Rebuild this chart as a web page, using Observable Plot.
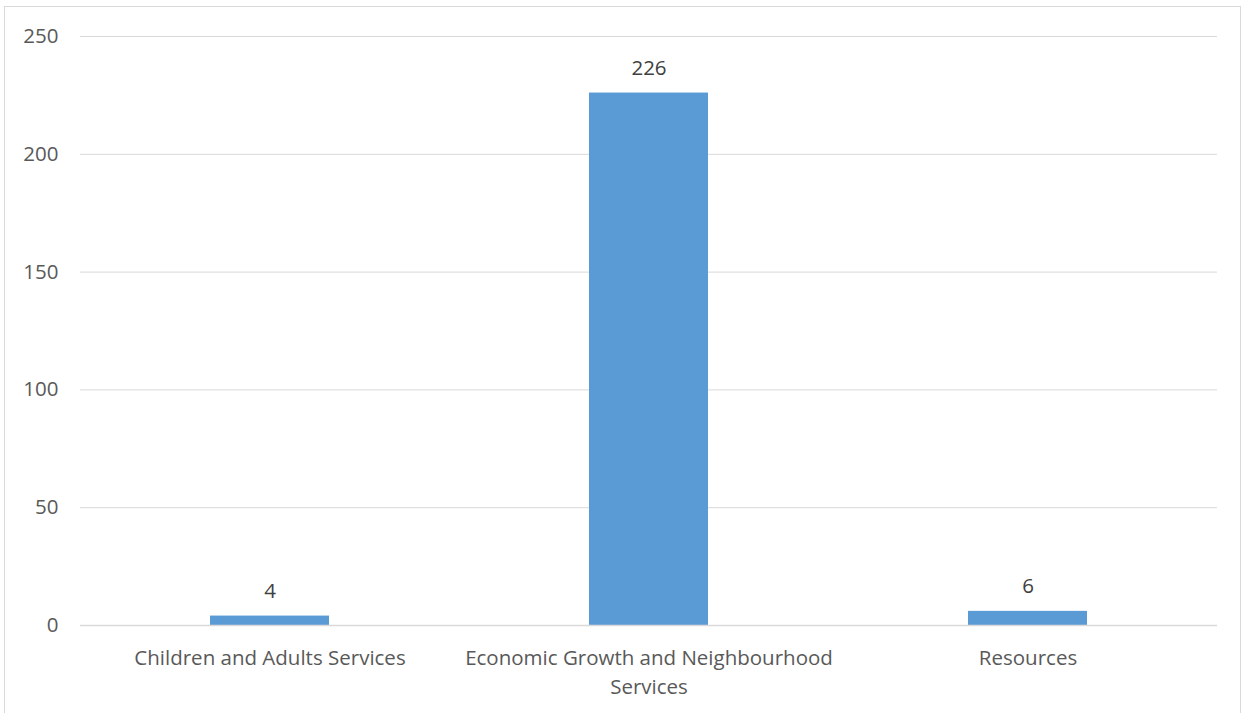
<!DOCTYPE html>
<html>
<head>
<meta charset="utf-8">
<script src="https://cdn.jsdelivr.net/npm/d3@7"></script>
<script src="https://cdn.jsdelivr.net/npm/@observablehq/plot@0.6"></script>
<style>
  html, body { margin: 0; padding: 0; background: #fff; overflow: hidden; }
  #frame { position: absolute; left: 4px; top: 6px; width: 1237px; height: 720px; border: 1px solid #d9d9d9; box-sizing: border-box; pointer-events: none; }
  #chart { position: absolute; left: 0; top: 0; }
</style>
</head>
<body>
<div id="chart"></div>
<div id="frame"></div>
<script>
const categories = ["Children and Adults Services", "Economic Growth and Neighbourhood Services", "Resources"];
const tickLabels = ["Children and Adults Services", "Economic Growth and Neighbourhood\nServices", "Resources"];
const values = [4, 226, 6];
const yTicks = [0, 50, 100, 150, 200, 250];

const data = categories.map((c, i) => ({category: c, value: values[i]}));
const labelFor = new Map(categories.map((c, i) => [c, tickLabels[i]]));

const font = "'Open Sans', 'Liberation Sans', sans-serif";

const chart = Plot.plot({
  width: 1248,
  height: 713,
  marginLeft: 80,
  marginRight: 31,
  marginTop: 36,
  marginBottom: 88,
  style: {fontFamily: font, fontSize: "20px", color: "#595959", background: "#fff"},
  x: {domain: categories, paddingInner: 0.686, paddingOuter: 0.343, label: null},
  y: {domain: [0, 250], label: null},
  marks: [
    Plot.gridY(yTicks, {stroke: "#d9d9d9", strokeOpacity: 1, strokeWidth: 1}),
    Plot.barY(data, {x: "category", y: "value", fill: "#5b9bd5"}),
    Plot.ruleY([0], {stroke: "#d9d9d9", strokeWidth: 1.5}),
    Plot.text(data, {x: "category", y: "value", text: d => String(d.value), dy: -25, fill: "#404040", fontSize: 20.5, fontFamily: font}),
    Plot.axisY({ticks: yTicks, tickSize: 0, tickPadding: 22, fontSize: 20.5, fill: "#595959"}),
    Plot.axisX({tickSize: 0, tickPadding: 19, fontSize: 20.5, fill: "#595959", tickFormat: d => labelFor.get(d), lineHeight: 1.42})
  ]
});
document.getElementById("chart").appendChild(chart);
</script>
</body>
</html>
